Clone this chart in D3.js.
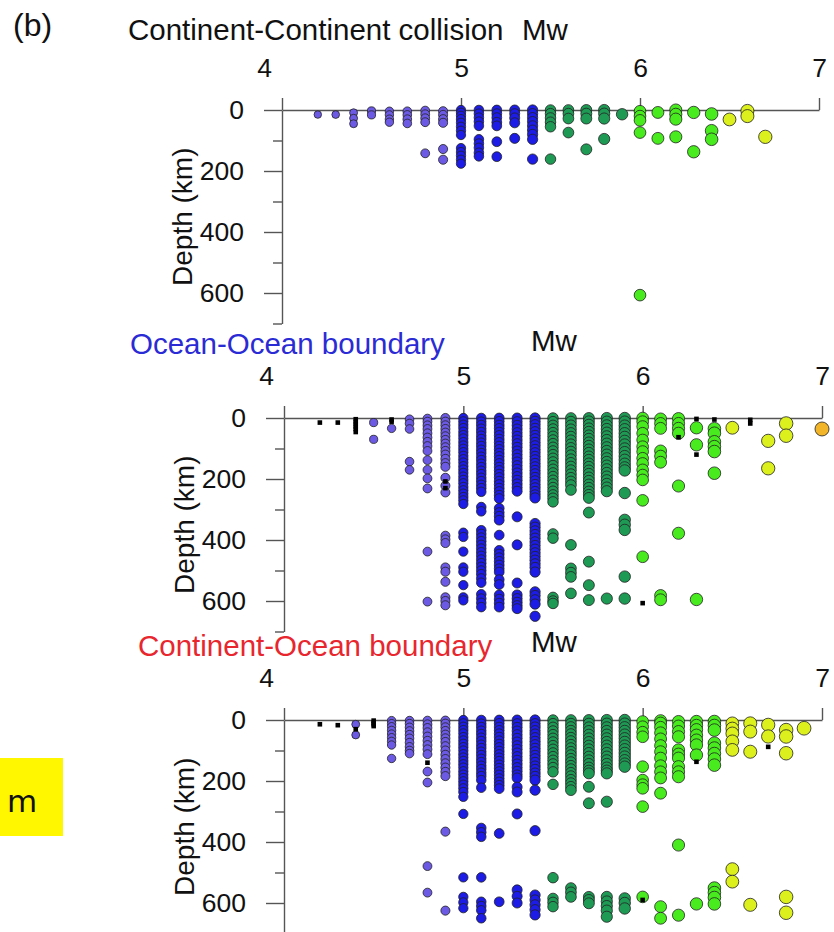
<!DOCTYPE html>
<html>
<head>
<meta charset="utf-8">
<script src="https://cdn.jsdelivr.net/npm/d3@7"></script>
<style>
  body { margin: 0; background: #fff; }
  svg { display: block; }
  text { font-family: "Liberation Sans", Arial, Helvetica, sans-serif; }
</style>
</head>
<body>
<svg id="chart" width="834" height="932"></svg>
<script>
// Magnitude bins (Mw) shared by all three panels
const mwBins = [4.2, 4.3, 4.4, 4.5, 4.6, 4.7, 4.8, 4.9, 5.0, 5.1, 5.2, 5.3, 5.4, 5.5, 5.6, 5.7, 5.8, 5.9,
                6.0, 6.1, 6.2, 6.3, 6.4, 6.5, 6.6, 6.7, 6.8, 6.9, 7.0];

const mwTicks = [4, 5, 6, 7];
const depthMajorTicks = [0, 200, 400, 600];
const depthMinorTicks = [100, 300, 500, 700];

// Continent-Continent collision: hypocentre depths (km) for each Mw bin
const ccDepths = [
  [15], [15], [9, 27, 45], [3, 16], [4, 16, 30, 40], [4, 16, 30, 44], [2, 14, 27, 40, 142],
  [4, 16, 30, 42, 128, 163],
  [0, 9, 19, 30, 42, 55, 68, 82, 125, 138, 150, 163, 176],
  [0, 12, 25, 38, 52, 96, 110, 124, 140, 152],
  [0, 12, 25, 40, 52, 104, 153],
  [0, 12, 26, 42, 93],
  [0, 12, 25, 38, 52, 66, 80, 96, 161],
  [0, 12, 26, 40, 55, 161],
  [0, 12, 28, 74],
  [0, 12, 28, 129],
  [0, 12, 28, 95],
  [14],
  [4, 20, 34, 74, 607],
  [8, 93],
  [0, 14, 30, 88],
  [8, 137],
  [13, 68, 96],
  [31],
  [3, 20],
  [88],
  [], [], []
];

// Ocean-Ocean boundary
const ooDepths = [
  [], [], [], [15, 70], [34], [4, 18, 36, 143, 170],
  [2, 12, 24, 36, 50, 64, 78, 92, 108, 138, 170, 198, 231, 438, 602],
  [0, 12, 24, 36, 48, 60, 72, 84, 96, 108, 120, 134, 148, 160, 196, 222, 244, 386, 398, 410, 490, 504, 537, 588, 600, 614],
  [0, 11, 22, 33, 45, 56, 67, 79, 90, 101, 112, 124, 135, 146, 158, 169, 180, 192, 203, 214, 226, 237, 248, 259, 270, 282,
   376, 390, 438, 490, 504, 548, 588, 598],
  [0, 12, 23, 35, 46, 58, 69, 81, 92, 104, 115, 127, 138, 150, 161, 173, 184, 196, 207, 219, 230, 242, 292, 306,
   368, 380, 392, 404, 416, 428, 440, 452, 464, 476, 488, 500, 512, 526, 540, 578, 592, 606, 620],
  [0, 11, 23, 34, 46, 57, 69, 80, 92, 103, 115, 126, 138, 149, 161, 172, 184, 195, 207, 218, 230, 241, 253, 264,
   296, 310, 322, 335, 384, 434, 446, 458, 470, 482, 494, 505, 530, 546, 580, 594, 607, 620],
  [0, 12, 24, 36, 48, 60, 72, 84, 96, 108, 120, 132, 144, 156, 168, 180, 192, 204, 216, 228, 240, 324, 416, 541,
   580, 592, 604, 615, 625],
  [0, 11, 22, 34, 45, 57, 68, 80, 91, 103, 114, 126, 137, 149, 160, 172, 183, 195, 206, 218, 229, 241, 252, 262,
   346, 358, 370, 382, 394, 406, 418, 430, 442, 454, 466, 478, 490, 505, 570, 582, 596, 610, 650],
  [0, 12, 24, 36, 48, 60, 72, 84, 96, 108, 120, 132, 144, 156, 168, 180, 192, 204, 216, 228, 240, 252, 263, 275,
   380, 394, 588, 600, 608],
  [0, 12, 24, 37, 49, 61, 73, 86, 98, 110, 122, 135, 147, 159, 171, 184, 196, 208, 220, 236, 416, 493, 507, 521, 575],
  [0, 11, 22, 34, 45, 57, 68, 80, 91, 103, 114, 126, 137, 149, 160, 172, 183, 195, 206, 218, 229, 241, 252, 262,
   310, 471, 548, 597],
  [0, 12, 24, 36, 48, 60, 72, 84, 96, 108, 120, 132, 144, 156, 168, 180, 192, 204, 216, 228, 240, 592],
  [0, 12, 25, 37, 50, 62, 75, 87, 100, 112, 125, 137, 150, 162, 172, 246, 334, 350, 367, 520, 592],
  [0, 12, 28, 50, 72, 94, 110, 132, 149, 170, 187, 203, 270, 455],
  [3, 18, 34, 108, 125, 145, 582, 596],
  [2, 18, 34, 50, 223, 378],
  [32, 88, 595],
  [35, 50, 78, 94, 110, 181],
  [32],
  [],
  [75, 165],
  [18, 58],
  [],
  [36]
];

// Continent-Ocean boundary
const coDepths = [
  [], [], [14, 49], [],
  [2, 12, 22, 34, 46, 58, 70, 82, 126],
  [2, 12, 24, 36, 48, 60, 74, 88, 100, 110],
  [2, 14, 26, 40, 54, 68, 82, 96, 112, 169, 205, 479, 566],
  [2, 12, 24, 36, 48, 60, 72, 86, 100, 114, 128, 142, 156, 170, 184, 366, 625],
  [0, 11, 22, 33, 44, 56, 67, 78, 89, 100, 112, 123, 134, 145, 156, 168, 179, 190, 201, 212, 224, 236, 252, 308,
   516, 580, 598, 617],
  [0, 12, 23, 35, 46, 58, 69, 81, 92, 104, 115, 127, 138, 150, 161, 173, 184, 197, 222, 354, 368, 383, 516,
   596, 610, 624, 650],
  [0, 11, 23, 34, 45, 56, 68, 79, 90, 102, 113, 124, 135, 147, 158, 169, 180, 192, 203, 214, 225, 372, 596],
  [0, 12, 24, 36, 48, 60, 72, 84, 96, 108, 120, 132, 144, 156, 168, 180, 190, 220, 236, 308, 557, 578, 600],
  [0, 12, 23, 35, 46, 58, 70, 81, 93, 104, 116, 127, 139, 151, 162, 174, 185, 197, 230, 363, 574, 590, 606, 622, 639],
  [0, 12, 24, 36, 48, 60, 72, 84, 96, 108, 120, 132, 144, 156, 170, 211, 517, 585, 598, 612],
  [0, 12, 23, 35, 46, 58, 69, 81, 92, 104, 115, 127, 138, 150, 161, 173, 184, 196, 207, 219, 230, 551, 565, 580],
  [0, 12, 24, 36, 48, 60, 72, 84, 96, 108, 120, 132, 144, 156, 166, 175, 219, 273, 580, 590, 601],
  [0, 12, 24, 36, 48, 60, 72, 84, 96, 108, 120, 132, 144, 156, 166, 175, 268, 580, 595, 610, 625, 645],
  [0, 12, 24, 36, 48, 60, 72, 84, 96, 108, 120, 132, 143, 153, 585, 600, 618],
  [5, 22, 40, 55, 153, 197, 212, 224, 284, 580],
  [2, 10, 24, 42, 62, 84, 104, 125, 150, 170, 190, 240, 612, 650],
  [5, 20, 38, 55, 98, 112, 125, 153, 170, 186, 410, 640],
  [5, 18, 32, 50, 66, 82, 115, 603],
  [5, 18, 33, 76, 92, 110, 128, 148, 551, 566, 582, 603],
  [11, 28, 44, 70, 98, 489, 530],
  [11, 38, 104, 606],
  [16, 54],
  [33, 54, 109, 580, 632],
  [27],
  []
];

// Events without a full solution, plotted as small black squares: [Mw, depth]
const ooBlackMarks = [[4.2, 15], [4.3, 15], [4.4, 4], [4.4, 12], [4.4, 20], [4.4, 28], [4.4, 36], [4.4, 46],
  [4.6, 5], [4.6, 12], [4.9, 208], [4.9, 230], [6.0, 607], [6.2, 63], [6.3, 3], [6.3, 120], [6.4, 5],
  [6.6, 6], [6.6, 18]];
const coBlackMarks = [[4.2, 14], [4.3, 17], [4.4, 30], [4.5, 2], [4.5, 8], [4.5, 14], [4.5, 20], [4.8, 140],
  [6.0, 590], [6.3, 137], [6.7, 88]];

const svg = d3.select("#chart");

const colour = d3.scaleThreshold()
  .domain([4.95, 5.45, 5.95, 6.45, 6.95])
  .range(["#6c5ae4", "#1c1ce6", "#1f9a55", "#48ec1e", "#dcf01e", "#f2b428"]);
const radius = d3.scaleLinear().domain([4, 7]).range([3.5, 7.0]);

const panels = [
  { title: "Continent-Continent collision", titleColour: "#111", tx: 128, ty: 40, mwx: 522, mwy: 40,
    top: 110, x0: 282, x1: 819, depths: ccDepths, marks: [] },
  { title: "Ocean-Ocean boundary", titleColour: "#2b2bd6", tx: 130, ty: 354, mwx: 531, mwy: 351,
    top: 418, x0: 284, x1: 822, depths: ooDepths, marks: ooBlackMarks },
  { title: "Continent-Ocean boundary", titleColour: "#e8262e", tx: 138, ty: 656, mwx: 531, mwy: 652,
    top: 720, x0: 284, x1: 822, depths: coDepths, marks: coBlackMarks }
];

svg.append("text").attr("x", 13).attr("y", 36).attr("font-size", 32).attr("fill", "#111").text("(b)");

panels.forEach(p => {
  const x = d3.scaleLinear().domain([4, 7]).range([p.x0, p.x1]);
  const y = d3.scaleLinear().domain([0, 700]).range([p.top, p.top + 213.5]);
  const g = svg.append("g");

  g.append("text").attr("x", p.tx).attr("y", p.ty).attr("font-size", 29.5)
    .attr("fill", p.titleColour).text(p.title);
  g.append("text").attr("x", p.mwx).attr("y", p.mwy).attr("font-size", 29.5)
    .attr("fill", "#111").text("Mw");

  // top magnitude axis
  const ax = g.append("g").attr("transform", `translate(0,${p.top})`)
    .call(d3.axisTop(x).tickValues(mwTicks).tickFormat(d3.format("d")).tickSize(12).tickSizeOuter(0).tickPadding(21));
  ax.selectAll("text").filter(d => d === 4).attr("x", -18);

  // left depth axis (major + minor ticks)
  g.append("g").attr("transform", `translate(${p.x0},0)`)
    .call(d3.axisLeft(y).tickValues(depthMajorTicks).tickSize(18).tickSizeOuter(0).tickPadding(20));
  g.append("g").attr("transform", `translate(${p.x0},0)`)
    .call(d3.axisLeft(y).tickValues(depthMinorTicks).tickSize(9).tickSizeOuter(0).tickFormat(""))
    .select(".domain").remove();

  g.selectAll(".domain, .tick line").attr("stroke", "#555").attr("stroke-width", 1.4);
  g.selectAll(".tick text").attr("font-size", 26.5).attr("fill", "#111");

  g.append("text")
    .attr("transform", `translate(${p.x0 - 90},${y(350)}) rotate(-90)`)
    .attr("text-anchor", "middle").attr("font-size", 28).attr("fill", "#111")
    .text("Depth (km)");

  // hypocentres
  const pts = mwBins.flatMap((m, i) => p.depths[i].map(d => ({ m, d })));
  g.append("g").selectAll("circle").data(pts).join("circle")
    .attr("cx", d => x(d.m)).attr("cy", d => y(d.d)).attr("r", d => radius(d.m))
    .attr("fill", d => colour(d.m)).attr("stroke", "#222").attr("stroke-opacity", 0.8).attr("stroke-width", 1);

  g.append("g").selectAll("rect").data(p.marks).join("rect")
    .attr("x", d => x(d[0]) - 2.3).attr("y", d => y(d[1]) - 2.3)
    .attr("width", 4.6).attr("height", 4.6).attr("fill", "#000");
});

// highlighted note box at the left edge
svg.append("rect").attr("x", 0).attr("y", 758).attr("width", 63).attr("height", 78).attr("fill", "#fff700");
svg.append("text").attr("x", 7).attr("y", 812).attr("font-size", 31)
  .style("font-family", "'DejaVu Sans', sans-serif").attr("fill", "#111").text("m");
</script>
</body>
</html>
